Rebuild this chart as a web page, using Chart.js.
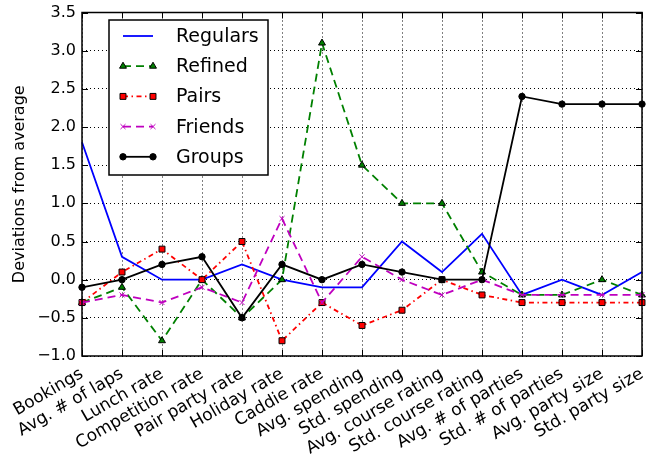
<!DOCTYPE html>
<html>
<head>
<meta charset="utf-8">
<script src="https://cdn.jsdelivr.net/npm/chart.js@4.4.1/dist/chart.umd.min.js"></script>
<style>
html,body{margin:0;padding:0;background:#fff;}
#c{display:block;}
</style>
</head>
<body>
<canvas id="c" width="655" height="456"></canvas>
<script>
const categories = ["Bookings","Avg. # of laps","Lunch rate","Competition rate","Pair party rate","Holiday rate","Caddie rate","Avg. spending","Std. spending","Avg. course rating","Std. course rating","Avg. # of parties","Std. # of parties","Avg. party size","Std. party size"];
const regulars = [1.8, 0.3, 0.0, 0.0, 0.2, 0.0, -0.1, -0.1, 0.5, 0.1, 0.6, -0.2, 0.0, -0.2, 0.1];
const refined  = [-0.3, -0.1, -0.8, 0.0, -0.5, 0.0, 3.1, 1.5, 1.0, 1.0, 0.1, -0.2, -0.2, 0.0, -0.2];
const pairs    = [-0.3, 0.1, 0.4, 0.0, 0.5, -0.8, -0.3, -0.6, -0.4, 0.0, -0.2, -0.3, -0.3, -0.3, -0.3];
const friends  = [-0.3, -0.2, -0.3, -0.1, -0.3, 0.8, -0.3, 0.3, 0.0, -0.2, 0.0, -0.2, -0.2, -0.2, -0.2];
const groups   = [-0.1, 0.0, 0.2, 0.3, -0.5, 0.2, 0.0, 0.2, 0.1, 0.0, 0.0, 2.4, 2.3, 2.3, 2.3];
const yMin = -1.0, yMax = 3.5, yStep = 0.5;
const yTitle = "Deviations from average";

const FONT = "'DejaVu Sans', sans-serif";

function ds(label, data, color, dash, pointStyle, radius, edge, order) {
  return {
    label, data,
    borderColor: color, backgroundColor: color,
    borderWidth: 1.8, borderDash: dash,
    pointStyle, pointRadius: radius, pointHoverRadius: radius,
    pointBackgroundColor: color, pointBorderColor: edge, pointBorderWidth: 1,
    tension: 0, fill: false, order
  };
}

const datasets = [
  ds("Regulars", regulars, "#0000ff", [], false, 0, "#0000ff", 5),
  ds("Refined", refined, "#008000", [8, 5], "triangle", 4, "#000000", 4),
  ds("Pairs", pairs, "#ff0000", [5, 3.5, 1.5, 3.5], "rect", 4.2, "#000000", 3),
  ds("Friends", friends, "#bf00bf", [8, 5], "crossRot", 3.5, "#bf00bf", 2),
  ds("Groups", groups, "#000000", [], "circle", 3.2, "#000000", 1)
];

const framePlugin = {
  id: "frame",
  afterDatasetsDraw(chart) {
    const {ctx, chartArea: a, scales} = chart;
    ctx.save();
    ctx.strokeStyle = "#000";
    ctx.lineWidth = 1;
    ctx.setLineDash([]);
    const tl = 6;
    ctx.beginPath();
    scales.x.ticks.forEach((t, i) => {
      const x = Math.round(scales.x.getPixelForTick(i)) + 0.5;
      ctx.moveTo(x, a.bottom); ctx.lineTo(x, a.bottom - tl);
      ctx.moveTo(x, a.top); ctx.lineTo(x, a.top + tl);
    });
    scales.y.ticks.forEach((t) => {
      const y = Math.round(scales.y.getPixelForValue(t.value)) + 0.5;
      ctx.moveTo(a.left, y); ctx.lineTo(a.left + tl, y);
      ctx.moveTo(a.right, y); ctx.lineTo(a.right - tl, y);
    });
    ctx.stroke();
    ctx.lineWidth = 1.5;
    ctx.strokeRect(a.left, a.top, a.right - a.left, a.bottom - a.top);
    ctx.restore();
  },
  afterDraw(chart) {
    const ctx = chart.ctx;
    const bx = 109, by = 20, bw = 159, bh = 155;
    ctx.save();
    ctx.fillStyle = "#fff";
    ctx.fillRect(bx, by, bw, bh);
    ctx.strokeStyle = "#000";
    ctx.lineWidth = 1.5;
    ctx.setLineDash([]);
    ctx.strokeRect(bx, by, bw, bh);
    const x0 = 123, x1 = 153, tx = 176;
    chart.data.datasets.forEach((d, i) => {
      const y = 36 + i * 30.2;
      ctx.strokeStyle = d.borderColor;
      ctx.lineWidth = d.borderWidth;
      ctx.setLineDash(d.borderDash);
      ctx.beginPath(); ctx.moveTo(x0, y); ctx.lineTo(x1, y); ctx.stroke();
      ctx.setLineDash([]);
      if (d.pointStyle) {
        ctx.fillStyle = d.pointBackgroundColor;
        ctx.strokeStyle = d.pointBorderColor;
        ctx.lineWidth = d.pointBorderWidth;
        [x0, x1].forEach(px => Chart.helpers.drawPoint(ctx, {pointStyle: d.pointStyle, radius: d.pointRadius, rotation: 0, borderWidth: d.pointBorderWidth}, px, y));
      }
      ctx.fillStyle = "#000";
      ctx.font = "19px " + FONT;
      ctx.textBaseline = "middle";
      ctx.textAlign = "left";
      ctx.fillText(d.label, tx, y + 1);
    });
    ctx.restore();
  }
};

new Chart(document.getElementById("c"), {
  type: "line",
  data: { labels: categories, datasets },
  plugins: [framePlugin],
  options: {
    responsive: false,
    animation: false,
    devicePixelRatio: 1,
    layout: { padding: { top: 12.5, right: 13, left: 0, bottom: 0 } },
    plugins: { legend: { display: false }, tooltip: { enabled: false } },
    scales: {
      x: {
        type: "category",
        offset: false,
        grid: { color: "#000", lineWidth: 1, drawTicks: false },
        border: { display: false, dash: [1, 3] },
        ticks: { autoSkip: false, maxRotation: 30, minRotation: 30, color: "#000", padding: 8, font: { family: FONT, size: 17 } },
        afterFit(s) { s.height = 100; s.paddingLeft = 0; s.paddingRight = 0; }
      },
      y: {
        min: yMin, max: yMax,
        grid: { color: "#000", lineWidth: 1, drawTicks: false },
        border: { display: false, dash: [1, 3] },
        ticks: { stepSize: yStep, color: "#000", padding: 6, font: { family: FONT, size: 16 },
          callback: v => v.toFixed(1).replace("-", "\u2212") },
        title: { display: true, text: yTitle, color: "#000", font: { family: FONT, size: 16 }, padding: { top: 10, bottom: 0 } },
        afterFit(s) { s.width = 82; s.paddingTop = 0; s.paddingBottom = 0; }
      }
    }
  }
});
</script>
</body>
</html>
